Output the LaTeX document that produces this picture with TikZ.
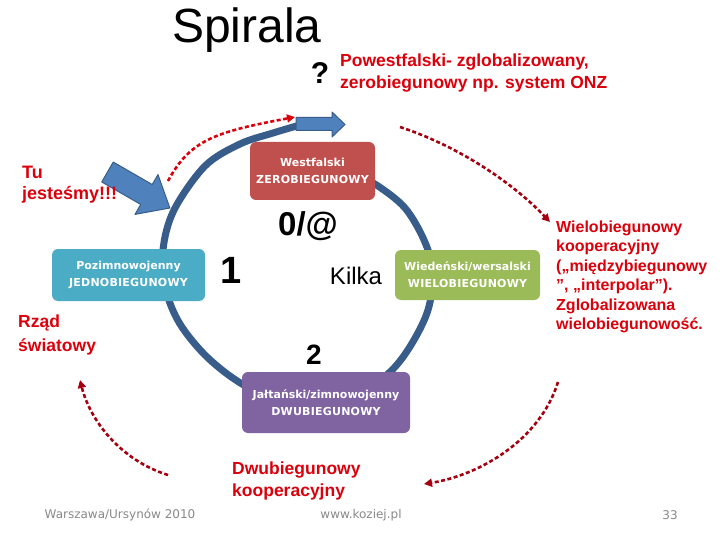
\documentclass[tikz,border=0pt]{standalone}
\usepackage{fontspec}
\setmainfont{Liberation Sans}
\newfontfamily\boxfont{DejaVu Sans}
\newfontfamily\boxcaps[LetterSpace=2]{DejaVu Sans}
\usetikzlibrary{arrows.meta}
\definecolor{spiralblue}{RGB}{56,93,138}
\definecolor{arrowblue}{RGB}{79,129,189}
\definecolor{txtred}{RGB}{218,0,12}
\definecolor{darkred}{RGB}{165,0,15}
\definecolor{westred}{RGB}{192,80,77}
\definecolor{pozcyan}{RGB}{75,172,198}
\definecolor{wiegreen}{RGB}{155,187,89}
\definecolor{jalpurple}{RGB}{128,100,162}
\definecolor{footgray}{RGB}{137,137,137}
\tikzset{
  spiral/.style={draw=spiralblue, line width=7pt},
  blockarrow/.style={fill=arrowblue, draw=spiralblue, line width=1pt, line join=round},
  stagebox/.style={rounded corners=6pt, minimum width=#1, text=white, align=center, inner sep=0pt,
     font=\boxfont\bfseries\fontsize{11}{17}\selectfont},
  redtext/.style={text=txtred, align=left, anchor=west, inner sep=0pt},
  rdash/.style={draw=txtred, line width=2.6pt, dash pattern=on 4pt off 2.5pt, -{Triangle[length=8pt,width=8pt]}},
  ddash/.style={draw=darkred, line width=2.6pt, dash pattern=on 4pt off 2.5pt, -{Triangle[length=8pt,width=8pt]}},
  foot/.style={text=footgray, font=\boxfont\fontsize{12}{14}\selectfont, inner sep=0pt},
  bignum/.style={font=\bfseries\fontsize{#1}{#1}\selectfont, inner sep=0pt}
}
\begin{document}
\begin{tikzpicture}[x=1pt,y=-1pt]
\useasboundingbox[fill=white] (0,0) rectangle (720,540);

% spiral
\draw[spiral] plot[smooth, tension=0.55] coordinates {(352,172) (378,186) (405,208) (424,240) (433,272) (428,310) (411,345) (390,372) (358,394) (320,404) (280,400) (242,384) (207,357) (180,324) (166,290) (163,250) (174,210) (205,166) (240,144) (273,133) (300,125)};
\draw[blockarrow] (296,117.5) -- (332,117.5) -- (332,112) -- (345,124.5) -- (332,137) -- (332,130.5) -- (296,130.5) -- cycle;

% "Tu jesteśmy" block arrow
\begin{scope}[shift={(107.5,172)}, rotate=-30]
\draw[blockarrow] (0,-11.5) -- (45,-11.5) -- (45,-23) -- (72,0) -- (45,23) -- (45,11.5) -- (0,11.5) -- cycle;
\end{scope}

% stage boxes
\node[stagebox=125pt, fill=westred, minimum height=58pt] (west) at (312.5,171) {Westfalski\\{\boxcaps ZEROBIEGUNOWY}};
\node[stagebox=153pt, fill=pozcyan, minimum height=52pt] (poz) at (128.5,275) {Pozimnowojenny\\{\boxcaps JEDNOBIEGUNOWY}};
\node[stagebox=145pt, fill=wiegreen, minimum height=50pt] (wie) at (467.5,275) {Wiedeński/wersalski\\{\boxcaps WIELOBIEGUNOWY}};
\node[stagebox=168pt, fill=jalpurple, minimum height=61pt] (jal) at (326,402.5) {Jałtański/zimnowojenny\\{\boxcaps DWUBIEGUNOWY}};

% title and labels
\node[font=\fontsize{48}{48}\selectfont, inner sep=0pt] (title) at (247,30) {Spirala};
\node[bignum=30] (q) at (320,73) {?};
\node[redtext, font=\bfseries\fontsize{17.5}{22}\selectfont] (powest) at (340,73) {Powestfalski- zglobalizowany,\\zerobiegunowy np. system ONZ};
\node[redtext, font=\bfseries\fontsize{18}{21}\selectfont] (tu) at (22,185) {Tu\\jesteśmy!!!};
\node[redtext, font=\bfseries\fontsize{17.5}{24}\selectfont] (rzad) at (18,335) {Rząd\\światowy};
\node[redtext, font=\bfseries\fontsize{16}{19.5}\selectfont] (wielo) at (556,277) {Wielobiegunowy\\kooperacyjny\\(„międzybiegunowy\\”, „interpolar”).\\Zglobalizowana\\wielobiegunowość.};
\node[redtext, font=\bfseries\fontsize{17.5}{22}\selectfont] (dwu) at (232,481) {Dwubiegunowy\\kooperacyjny};

\node[bignum=33] (zero) at (308,226) {0/@};
\node[bignum=38] (one) at (231,270) {1};
\node[font=\fontsize{24}{24}\selectfont, inner sep=0pt] (kilka) at (356,276) {Kilka};
\node[bignum=28] (two) at (314,355) {2};

% dashed red arrows
\coordinate (a1) at (168,181);
\coordinate (a2) at (295,117);
\draw[rdash] (a1) .. controls (190,140) and (215,132) .. (a2);
\coordinate (b1) at (400,127);
\coordinate (b2) at (550,222);
\draw[ddash] (b1) .. controls (455,145) and (510,180) .. (b2);
\coordinate (c1) at (558,382);
\coordinate (c2) at (424,484);
\draw[ddash] (c1) .. controls (540,440) and (480,475) .. (c2);
\coordinate (d1) at (168,475);
\coordinate (d2) at (80,380);
\draw[ddash] (d1) .. controls (120,460) and (90,420) .. (d2);

% footer
\node[foot] (f1) at (120,515) {Warszawa/Ursynów 2010};
\node[foot] (f2) at (361,515) {www.koziej.pl};
\node[foot] (f3) at (670,515) {33};
\end{tikzpicture}
\end{document}
